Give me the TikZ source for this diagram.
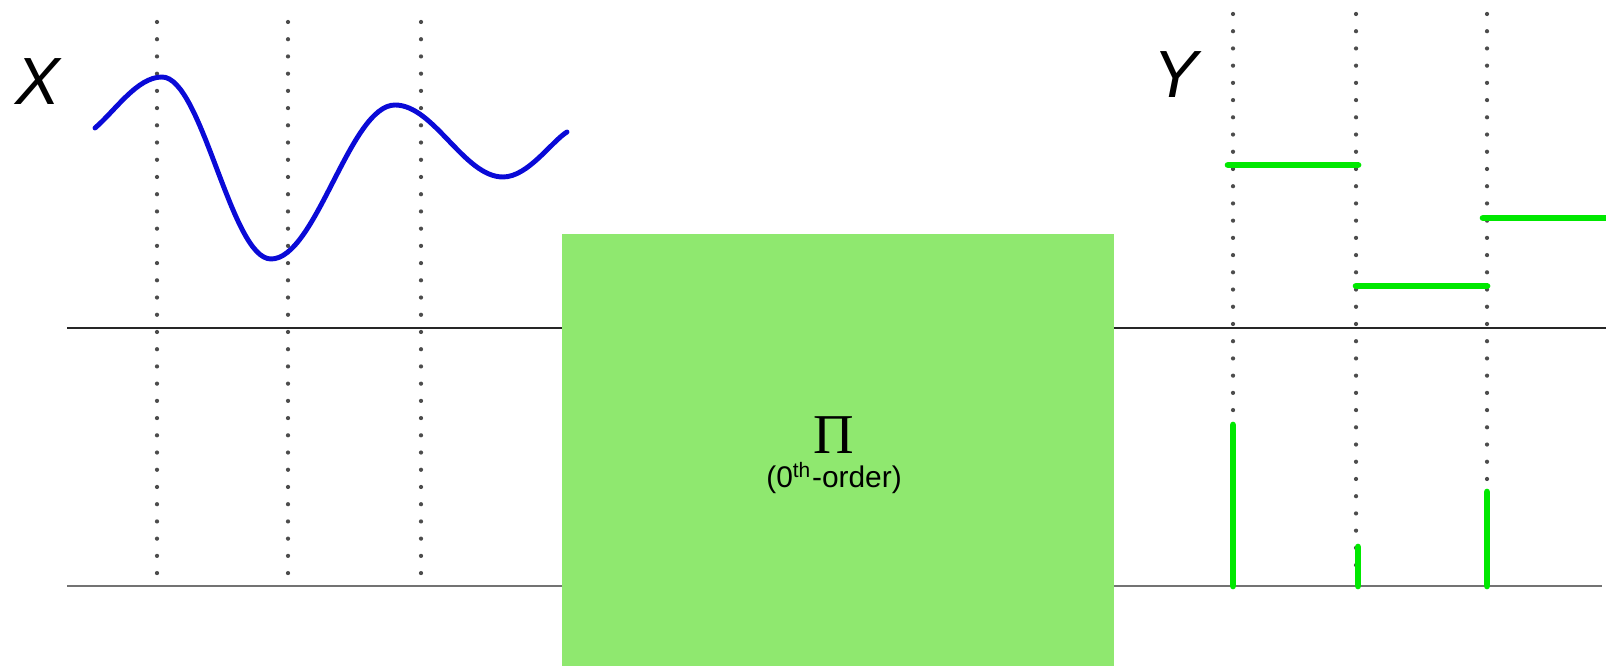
\documentclass[tikz,border=0pt]{standalone}
\usepackage{fontspec}
\setmainfont{Liberation Sans}
\newfontfamily\pifont{Liberation Serif}
\definecolor{boxgreen}{RGB}{143,232,111}
\definecolor{holdgreen}{RGB}{0,232,0}
\definecolor{wave}{RGB}{10,10,215}
\tikzset{
  sample/.style={line width=1.2pt,dash pattern=on 0pt off 4.9pt,line cap=round,black!70},
  hold/.style={holdgreen,line width=1.9pt,line cap=round},
  signal/.style={font=\fontsize{19}{19}\selectfont\itshape}
}

\begin{document}
\begin{tikzpicture}[line width=.6pt]
\useasboundingbox (0,0) rectangle (16.06,6.67);
\coordinate (U0) at (0.67,3.39); \coordinate (U1) at (16.06,3.39); \coordinate (L0) at (0.67,0.81); \coordinate (L1) at (16.02,0.81);
\draw[black!85] (U0)--(U1); \draw[black!55,line width=.85pt] (L0)--(L1);
\node[fill=boxgreen,inner sep=0,minimum width=5.52cm,minimum height=4.32cm,anchor=south west] (box) at (5.61,0) {};
\node[font=\fontsize{16}{16}\pifont] (pi) at (8.34,2.32) {Π};
\node[font=\fontsize{8.5}{10}\selectfont] (order) at (8.34,1.89) {(0\textsuperscript{th}-order)};
\foreach \x in {1.57,2.88,4.21} \draw[sample] (\x,6.45)--(\x,0.89);
\foreach \x in {12.33,13.56,14.87} \draw[sample] (\x,6.53)--(\x,0.85);
\draw[wave,line width=1.4pt,line cap=round] (0.95,5.39) .. controls (1.15,5.56) and (1.37,5.90) .. (1.62,5.90)
  .. controls (2.02,5.90) and (2.31,4.08) .. (2.71,4.08) .. controls (3.16,4.08) and (3.50,5.62) .. (3.95,5.62)
  .. controls (4.34,5.62) and (4.64,4.90) .. (5.03,4.90) .. controls (5.28,4.90) and (5.52,5.26) .. (5.67,5.35);
\foreach \a/\b/\h in {12.28/13.58/5.02,13.56/14.87/3.81,14.83/16.10/4.49} \draw[hold] (\a,\h)--(\b,\h);
\foreach \x/\h in {12.33/2.42,13.58/1.20,14.87/1.75} \draw[hold] (\x,0.81)--(\x,\h);
\node[signal] (x) at (0.38,5.85) {X}; \node[signal] (y) at (11.76,5.92) {Y};
\end{tikzpicture}
\end{document}
